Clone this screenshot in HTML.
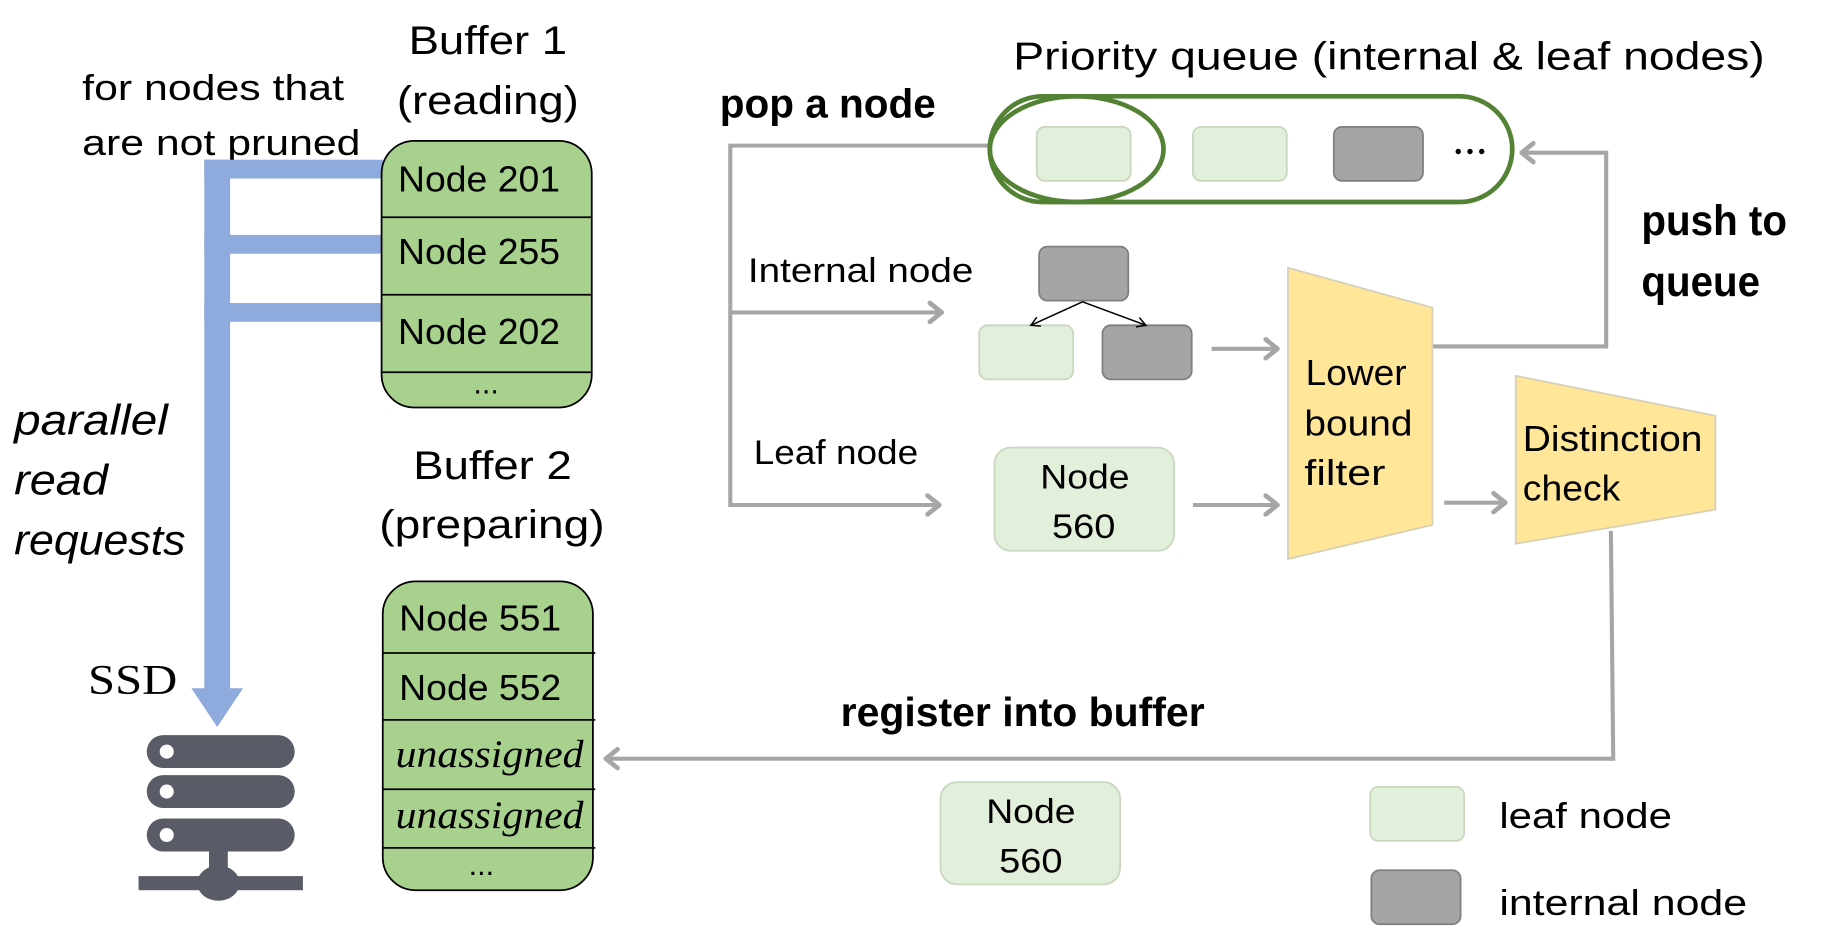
<!DOCTYPE html>
<html><head><meta charset="utf-8"><style>
html,body{margin:0;padding:0;background:#fff;width:1841px;height:936px;overflow:hidden}
svg{display:block}
text{font-family:"Liberation Sans","DejaVu Sans",sans-serif;fill:#000}
.b{font-family:"Liberation Sans",sans-serif;font-weight:bold}
.s{font-family:"Liberation Serif",serif}
</style></head><body>
<svg width="1841" height="936" viewBox="0 0 1568 797" preserveAspectRatio="none" xmlns="http://www.w3.org/2000/svg">
<defs>
<marker id="ga" viewBox="0 0 14 20" refX="12" refY="10" markerWidth="14" markerHeight="20" orient="auto" markerUnits="userSpaceOnUse">
<path d="M2,2 L12,10 L2,18" fill="none" stroke="#a6a6a6" stroke-width="4" stroke-linecap="round" stroke-linejoin="round"/></marker>
<marker id="ka" viewBox="0 0 12 12" refX="10" refY="6" markerWidth="10" markerHeight="10" orient="auto" markerUnits="userSpaceOnUse">
<path d="M1,1 L10,6 L1,11" fill="none" stroke="#000" stroke-width="1.5"/></marker>
</defs>

<text x="348" y="46" font-size="34" textLength="135" lengthAdjust="spacingAndGlyphs">Buffer 1</text>
<text x="338" y="97" font-size="34" textLength="155" lengthAdjust="spacingAndGlyphs">(reading)</text>
<text x="70" y="85" font-size="31" textLength="223" lengthAdjust="spacingAndGlyphs">for nodes that</text>
<text x="70" y="132" font-size="31" textLength="237" lengthAdjust="spacingAndGlyphs">are not pruned</text>

<g fill="#8faadc">
<rect x="174" y="136" width="152" height="16"/>
<rect x="174" y="200" width="152" height="16"/>
<rect x="174" y="258" width="152" height="16"/>
<rect x="174" y="136" width="22" height="452"/>
<polygon points="163,586 207,586 185,619"/>
</g>

<rect x="325" y="120" width="179" height="227" rx="28" fill="#a9d18e" stroke="#000" stroke-width="1.5"/>
<g stroke="#000" stroke-width="1.5"><line x1="325" y1="185" x2="504" y2="185"/><line x1="325" y1="251" x2="504" y2="251"/><line x1="325" y1="317" x2="504" y2="317"/></g>
<text x="339" y="163" font-size="31" textLength="138" lengthAdjust="spacingAndGlyphs">Node 201</text>
<text x="339" y="225" font-size="31" textLength="138" lengthAdjust="spacingAndGlyphs">Node 255</text>
<text x="339" y="293" font-size="31" textLength="138" lengthAdjust="spacingAndGlyphs">Node 202</text>
<text x="414" y="335" font-size="26" text-anchor="middle">...</text>

<text x="12" y="370" font-size="36" font-style="italic" textLength="131" lengthAdjust="spacingAndGlyphs">parallel</text>
<text x="12" y="421" font-size="36" font-style="italic" textLength="80" lengthAdjust="spacingAndGlyphs">read</text>
<text x="12" y="472" font-size="36" font-style="italic" textLength="146" lengthAdjust="spacingAndGlyphs">requests</text>

<text x="352" y="408" font-size="34" textLength="135" lengthAdjust="spacingAndGlyphs">Buffer 2</text>
<text x="323" y="458" font-size="34" textLength="192" lengthAdjust="spacingAndGlyphs">(preparing)</text>

<text x="75" y="591" font-size="36" class="s" textLength="76" lengthAdjust="spacingAndGlyphs">SSD</text>

<g fill="#595c66">
<rect x="125" y="626" width="126" height="28" rx="14"/>
<rect x="125" y="660" width="126" height="28" rx="14"/>
<rect x="125" y="697" width="126" height="28" rx="14"/>
<rect x="178" y="725" width="16" height="20"/>
<rect x="118" y="746" width="56" height="12"/>
<rect x="198" y="746" width="60" height="12"/>
<ellipse cx="186" cy="752" rx="18" ry="15"/>
</g>
<g fill="#fff"><circle cx="142" cy="640" r="6"/><circle cx="142" cy="674" r="6"/><circle cx="142" cy="711" r="6"/></g>

<rect x="326" y="495" width="179" height="263" rx="28" fill="#a9d18e" stroke="#000" stroke-width="1.5"/>
<g stroke="#000" stroke-width="1.5"><line x1="326" y1="556" x2="507" y2="556"/><line x1="326" y1="613" x2="507" y2="613"/><line x1="326" y1="672" x2="507" y2="672"/><line x1="326" y1="722" x2="507" y2="722"/></g>
<text x="340" y="537" font-size="31" textLength="138" lengthAdjust="spacingAndGlyphs">Node 551</text>
<text x="340" y="596" font-size="31" textLength="138" lengthAdjust="spacingAndGlyphs">Node 552</text>
<text x="337" y="653" font-size="33" class="s" font-style="italic" textLength="160" lengthAdjust="spacingAndGlyphs">unassigned</text>
<text x="337" y="705" font-size="33" class="s" font-style="italic" textLength="160" lengthAdjust="spacingAndGlyphs">unassigned</text>
<text x="410" y="745" font-size="26" text-anchor="middle">...</text>

<text x="613" y="100" font-size="35" class="b" textLength="184" lengthAdjust="spacingAndGlyphs">pop a node</text>
<g stroke="#a6a6a6" stroke-width="3.5" fill="none">
<polyline points="842,124 622,124 622,430 800,430" marker-end="url(#ga)"/>
<line x1="622" y1="266" x2="802" y2="266" marker-end="url(#ga)"/>
<line x1="1032" y1="297" x2="1088" y2="297" marker-end="url(#ga)"/>
<line x1="1016" y1="430" x2="1088" y2="430" marker-end="url(#ga)"/>
<line x1="1230" y1="428" x2="1282" y2="428" marker-end="url(#ga)"/>
<polyline points="1220,295 1368,295 1368,130 1296,130" marker-end="url(#ga)"/>
<polyline points="1372,452 1374,646 516,646" marker-end="url(#ga)"/>
</g>
<text x="637" y="240" font-size="29" textLength="192" lengthAdjust="spacingAndGlyphs">Internal node</text>
<text x="642" y="395" font-size="29" textLength="140" lengthAdjust="spacingAndGlyphs">Leaf node</text>

<text x="863" y="59" font-size="33" textLength="640" lengthAdjust="spacingAndGlyphs">Priority queue (internal &amp; leaf nodes)</text>
<rect x="843" y="82" width="445" height="90" rx="45" fill="none" stroke="#548235" stroke-width="4"/>
<ellipse cx="917" cy="127" rx="74" ry="45" fill="none" stroke="#548235" stroke-width="4"/>
<rect x="883" y="108" width="80" height="46" rx="7" fill="#e2efda" stroke="#c9d6c0" stroke-width="1.5"/>
<rect x="1016" y="108" width="80" height="46" rx="7" fill="#e2efda" stroke="#c9d6c0" stroke-width="1.5"/>
<rect x="1136" y="108" width="76" height="46" rx="7" fill="#a5a5a5" stroke="#7f7f7f" stroke-width="1.5"/>
<g fill="#000"><circle cx="1242" cy="129" r="2.3"/><circle cx="1252" cy="129" r="2.3"/><circle cx="1262" cy="129" r="2.3"/></g>

<rect x="885" y="210" width="76" height="46" rx="7" fill="#a5a5a5" stroke="#7f7f7f" stroke-width="1.5"/>
<rect x="834" y="277" width="80" height="46" rx="7" fill="#e2efda" stroke="#c9d6c0" stroke-width="1.5"/>
<rect x="939" y="277" width="76" height="46" rx="7" fill="#a5a5a5" stroke="#7f7f7f" stroke-width="1.5"/>
<line x1="922" y1="257" x2="878" y2="277" stroke="#000" stroke-width="1.3" marker-end="url(#ka)"/>
<line x1="922" y1="257" x2="976" y2="277" stroke="#000" stroke-width="1.3" marker-end="url(#ka)"/>

<polygon points="1097,228 1220,262 1220,447 1097,476" fill="#ffe699" stroke="#d6d0b8" stroke-width="1.5"/>
<text x="1112" y="328" font-size="31" textLength="86" lengthAdjust="spacingAndGlyphs">Lower</text>
<text x="1111" y="371" font-size="31" textLength="92" lengthAdjust="spacingAndGlyphs">bound</text>
<text x="1111" y="413" font-size="31" textLength="69" lengthAdjust="spacingAndGlyphs">filter</text>
<polygon points="1291,320 1461,354 1461,434 1291,463" fill="#ffe699" stroke="#d6d0b8" stroke-width="1.5"/>
<text x="1297" y="384" font-size="31" textLength="153" lengthAdjust="spacingAndGlyphs">Distinction</text>
<text x="1297" y="426" font-size="31" textLength="83" lengthAdjust="spacingAndGlyphs">check</text>

<rect x="847" y="381" width="153" height="88" rx="14" fill="#e2efda" stroke="#c9d6c0" stroke-width="1.5"/>
<text x="886" y="416" font-size="29" textLength="76" lengthAdjust="spacingAndGlyphs">Node</text>
<text x="896" y="458" font-size="29" textLength="54" lengthAdjust="spacingAndGlyphs">560</text>

<text x="1398" y="200" font-size="36" class="b" textLength="124" lengthAdjust="spacingAndGlyphs">push to</text>
<text x="1398" y="252" font-size="36" class="b" textLength="101" lengthAdjust="spacingAndGlyphs">queue</text>

<text x="716" y="618" font-size="35" class="b" textLength="310" lengthAdjust="spacingAndGlyphs">register into buffer</text>

<rect x="801" y="666" width="153" height="87" rx="14" fill="#e2efda" stroke="#c9d6c0" stroke-width="1.5"/>
<text x="840" y="701" font-size="29" textLength="76" lengthAdjust="spacingAndGlyphs">Node</text>
<text x="851" y="743" font-size="29" textLength="54" lengthAdjust="spacingAndGlyphs">560</text>

<rect x="1167" y="670" width="80" height="46" rx="7" fill="#e2efda" stroke="#c9d6c0" stroke-width="1.5"/>
<text x="1277" y="705" font-size="31" textLength="147" lengthAdjust="spacingAndGlyphs">leaf node</text>
<rect x="1168" y="741" width="76" height="46" rx="7" fill="#a5a5a5" stroke="#7f7f7f" stroke-width="1.5"/>
<text x="1277" y="779" font-size="31" textLength="211" lengthAdjust="spacingAndGlyphs">internal node</text>
</svg>
</body></html>
